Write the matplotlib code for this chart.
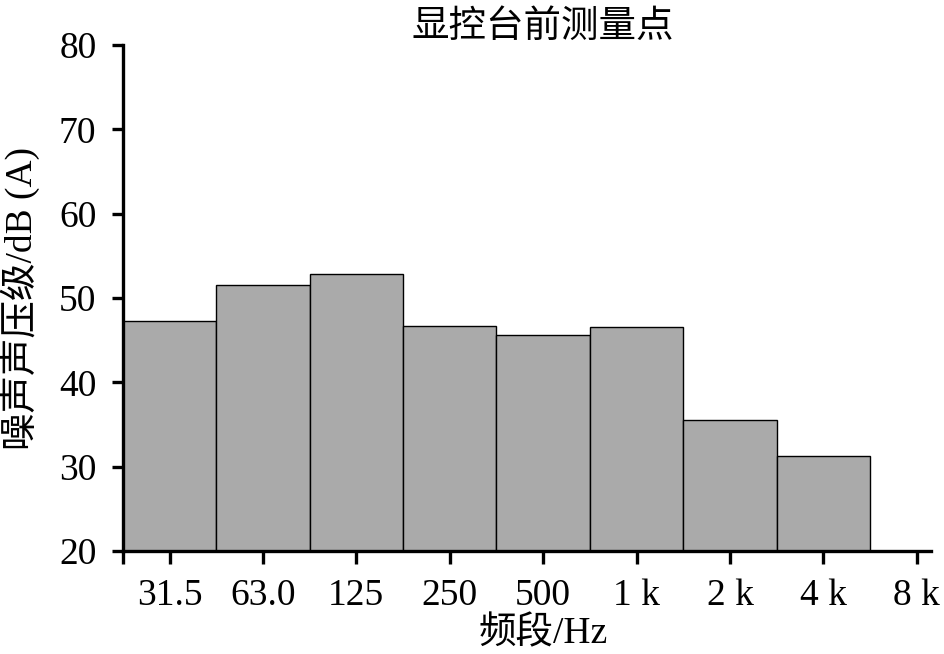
import matplotlib.pyplot as plt
import numpy as np

plt.rcParams['font.family'] = ['Liberation Serif', 'Noto Sans CJK SC']

bands = ["31.5", "63.0", "125", "250", "500", "1 k", "2 k", "4 k", "8 k"]
levels = np.array([47.3, 51.6, 52.8, 46.7, 45.6, 46.6, 35.5, 31.3])

fig = plt.figure(figsize=(9.45, 6.54), dpi=100)
ax = fig.add_axes([0.130, 0.1575, 0.855, 0.7735])

x = np.arange(len(levels))
ax.bar(x, levels, width=1.0, color="#aaaaaa", edgecolor="black", linewidth=1.0)

ax.set_xlim(-0.5, 8.15)
ax.set_ylim(20, 80)
ax.set_yticks(np.arange(20, 81, 10))
ax.set_xticks([-0.5] + list(range(len(bands))))
ax.set_xticklabels([""] + bands)

for s in ["top", "right"]:
    ax.spines[s].set_visible(False)
for s in ["left", "bottom"]:
    ax.spines[s].set_linewidth(2.4)

ax.tick_params(axis="y", length=8, width=2.4, labelsize=27, pad=11)
ax.tick_params(axis="x", length=9, width=2.4, labelsize=27, pad=11)

ax.set_title("显控台前测量点", fontsize=27, x=0.52, pad=4)
ax.set_ylabel("噪声声压级/dB (A)", fontsize=27)
ax.yaxis.set_label_coords(-0.103, 0.5)
ax.set_xlabel("频段/Hz", fontsize=27)
ax.xaxis.set_label_coords(0.52, -0.128)

fig.savefig("out.png", dpi=100)
